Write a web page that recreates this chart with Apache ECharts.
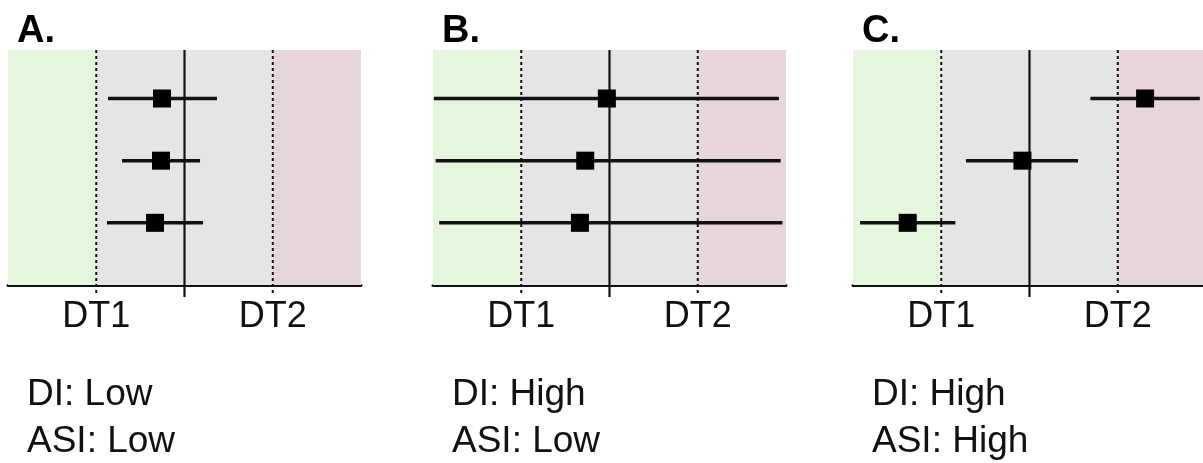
<!DOCTYPE html>
<html>
<head>
<meta charset="utf-8">
<script src="https://cdn.jsdelivr.net/npm/echarts@6/dist/echarts.min.js"></script>
<style>
  html, body { margin: 0; padding: 0; background: #fff; }
  #chart { width: 1203px; height: 463px; }
</style>
</head>
<body>
<div id="chart"></div>
<script>
// axis: -2..2, decision thresholds at -1 / 1
const tickValues = [-1, 1];
const tickLabels = ['DT1', 'DT2'];
const zones = [[-2, -1], [-1, 1], [1, 2]];
const rowY = [3, 2, 1];

const meanA = [-0.255, -0.266, -0.334];
const lowA = [-0.867, -0.708, -0.878];
const highA = [0.368, 0.176, 0.21];

const meanB = [-0.03, -0.275, -0.335];
const lowB = [-1.99, -1.97, -1.93];
const highB = [1.92, 1.94, 1.96];

const meanC = [1.31, -0.08, -1.38];
const lowC = [0.69, -0.72, -1.92];
const highC = [1.93, 0.55, -0.84];

const panelLetters = ['A.', 'B.', 'C.'];
const diLabels = ['Low', 'High', 'High'];
const asiLabels = ['Low', 'Low', 'High'];

const zoneColors = ['#e6f5dd', '#e5e5e5', '#e6d6db'];
const FONT = 'Liberation Sans, Arial, sans-serif';
const Y_MAX = 3.78;
const lefts = [8, 433, 853];
const panels = [
  { mean: meanA, low: lowA, high: highA },
  { mean: meanB, low: lowB, high: highB },
  { mean: meanC, low: lowC, high: highC }
];

const grid = [], xAxis = [], yAxis = [], series = [], title = [];

panels.forEach(function (p, i) {
  grid.push({ left: lefts[i], top: 50, width: 353, height: 235, outerBoundsMode: 'none' });
  xAxis.push({
    gridIndex: i, type: 'value', min: -2, max: 2, interval: 1,
    splitLine: { show: false },
    axisTick: { show: false },
    axisLine: { lineStyle: { color: '#111', width: 3 } },
    axisLabel: {
      color: '#111', fontSize: 36, fontFamily: FONT, margin: 14,
      formatter: function (v) {
        const k = tickValues.indexOf(v);
        return k >= 0 ? tickLabels[k] : '';
      }
    }
  });
  yAxis.push({
    gridIndex: i, type: 'value', min: 0, max: Y_MAX, show: false
  });

  // coloured zones
  series.push({
    type: 'custom', xAxisIndex: i, yAxisIndex: i, z: 1, silent: true,
    data: zones.map(function (z, k) { return [z[0], z[1], k]; }),
    renderItem: function (params, api) {
      const a = api.coord([api.value(0), Y_MAX]);
      const b = api.coord([api.value(1), 0]);
      return {
        type: 'rect',
        shape: { x: a[0], y: a[1], width: b[0] - a[0], height: b[1] - a[1] },
        style: { fill: zoneColors[api.value(2)] }
      };
    }
  });

  // threshold lines (dotted) and null line (solid)
  series.push({
    type: 'custom', xAxisIndex: i, yAxisIndex: i, z: 3, silent: true,
    data: [tickValues[0], 0, tickValues[1]],
    renderItem: function (params, api) {
      const x = api.value(0);
      const top = api.coord([x, Y_MAX]);
      const bot = api.coord([x, 0]);
      const solid = x === 0;
      return {
        type: 'line',
        shape: { x1: top[0], y1: top[1], x2: bot[0], y2: bot[1] + (solid ? 12 : 9) },
        style: {
          stroke: '#111', lineWidth: solid ? 2.2 : 2,
          lineDash: solid ? null : [3, 3]
        }
      };
    }
  });

  // estimates with intervals
  series.push({
    type: 'custom', xAxisIndex: i, yAxisIndex: i, z: 4, silent: true,
    data: rowY.map(function (y, k) { return [y, p.mean[k], p.low[k], p.high[k]]; }),
    renderItem: function (params, api) {
      const y = api.value(0);
      const m = api.coord([api.value(1), y]);
      const lo = api.coord([api.value(2), y]);
      const hi = api.coord([api.value(3), y]);
      return {
        type: 'group',
        children: [
          { type: 'line', shape: { x1: lo[0], y1: lo[1], x2: hi[0], y2: hi[1] },
            style: { stroke: '#111', lineWidth: 3.5 } },
          { type: 'rect', shape: { x: m[0] - 9, y: m[1] - 9, width: 18, height: 18 },
            style: { fill: '#000' } }
        ]
      };
    }
  });

  title.push({
    text: panelLetters[i], left: lefts[i] + 4, top: 8,
    textStyle: { fontSize: 38, fontWeight: 'bold', fontFamily: FONT, color: '#000' }
  });
  title.push({
    text: 'DI: ' + diLabels[i] + '\nASI: ' + asiLabels[i],
    left: lefts[i] + 14, top: 366,
    textStyle: { fontSize: 37, fontWeight: 'normal', fontFamily: FONT, color: '#111', lineHeight: 47 }
  });
});

const chart = echarts.init(document.getElementById('chart'));
chart.setOption({
  animation: false,
  backgroundColor: '#fff',
  title: title,
  grid: grid,
  xAxis: xAxis,
  yAxis: yAxis,
  series: series
});
window.addEventListener('resize', function () { chart.resize(); });
</script>
</body>
</html>
